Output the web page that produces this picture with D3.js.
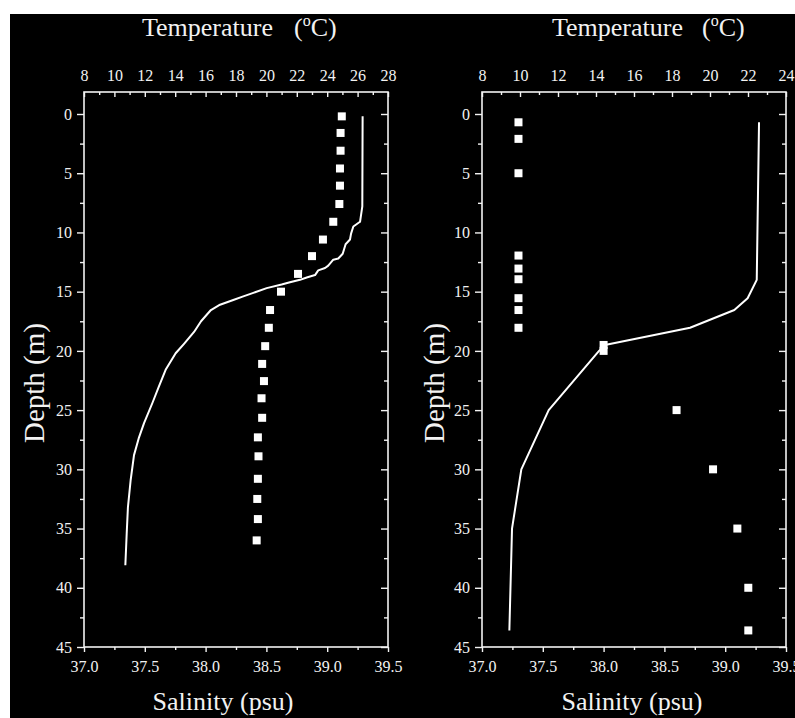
<!DOCTYPE html>
<html>
<head>
<meta charset="utf-8">
<script src="https://cdnjs.cloudflare.com/ajax/libs/d3/7.8.5/d3.min.js"></script>
<style>
  body { margin: 0; background: white; }
  text { font-family: "Liberation Serif", "Times New Roman", serif; fill: #f2f2f2; }
</style>
</head>
<body>
<div id="chart"></div>
<script>
// left profile: line = temperature, squares = salinity
var leftLineDepth = [0.2, 7.8, 9.1, 9.5, 10.1, 10.6, 11.0, 11.8, 12.2, 12.3, 12.8, 13.0, 13.2, 13.6, 13.8, 14.0, 14.2, 14.4, 14.7, 15.1,
                     15.4, 15.7, 16.1, 16.55, 17.5, 18.4, 19.4, 20.2, 21.6, 23.0, 24.4, 26.1, 27.3, 28.8, 30.9, 33.2, 35.4, 38.1];
var leftLineTemp = [26.33, 26.31, 26.16, 25.72, 25.57, 25.5, 25.21, 25.02, 24.73, 24.4, 24.07, 23.86, 23.41, 23.2, 22.65, 22.21, 21.55, 21.0, 20.02, 19.14,
                    18.48, 17.82, 16.95, 16.35, 15.7, 15.24, 14.58, 14.03, 13.37, 12.93, 12.5, 11.95, 11.62, 11.29, 11.07, 10.89, 10.81, 10.72];
var leftSqDepth = [0.2, 1.6, 3.1, 4.6, 6.05, 7.6, 9.1, 10.6, 12.0, 13.5, 15.0, 16.55, 18.05, 19.6, 21.1, 22.55, 24.0, 25.65, 27.3, 28.9, 30.8, 32.5, 34.2, 36.0];
var leftSqSal = [39.12, 39.11, 39.11, 39.105, 39.105, 39.10, 39.05, 38.965, 38.875, 38.76, 38.62, 38.53, 38.52, 38.49, 38.465, 38.48, 38.46, 38.465, 38.43, 38.435, 38.43, 38.425, 38.43, 38.42];

// right profile
var rightLineDepth = [0.7, 14.0, 15.55, 16.55, 18.05, 19.5, 20.0, 25.0, 30.0, 35.0, 43.6];
var rightLineTemp = [22.58, 22.46, 21.98, 21.28, 18.95, 14.47, 14.16, 11.51, 10.07, 9.58, 9.44];
var rightSqDepth = [0.7, 2.1, 5.0, 11.95, 13.05, 13.95, 15.55, 16.55, 18.05, 19.5, 20.0, 25.0, 30.0, 35.0, 40.0, 43.6];
var rightSqSal = [37.3, 37.3, 37.3, 37.3, 37.3, 37.3, 37.3, 37.3, 37.3, 38.0, 38.0, 38.6, 38.9, 39.1, 39.19, 39.19];

// axes
var leftTempTicks = [8, 10, 12, 14, 16, 18, 20, 22, 24, 26, 28];
var rightTempTicks = [8, 10, 12, 14, 16, 18, 20, 22, 24];
var salTicks = [37.0, 37.5, 38.0, 38.5, 39.0, 39.5];
var depthTicks = [0, 5, 10, 15, 20, 25, 30, 35, 40, 45];

var width = 795, height = 718;

var svg = d3.select("#chart")
    .append("svg")
    .attr("width", width)
    .attr("height", height);

// black figure background
svg.append("rect")
    .attr("x", 10).attr("y", 14)
    .attr("width", width - 10).attr("height", height - 14)
    .attr("fill", "black");

// note: "top" is taken by window.top, so plotTop
var plotTop = 92, plotBottom = 647;
var y = d3.scaleLinear().domain([0, 45]).range([114, 647]);

function drawPanel(opt) {
    var x0 = opt.x0, x1 = opt.x1;
    var xt = d3.scaleLinear().domain(opt.tempDomain).range([x0, x1]);
    var xs = d3.scaleLinear().domain([37.0, 39.5]).range([x0, x1]);
    var g = svg.append("g");

    //frame
    g.append("rect")
        .attr("x", x0).attr("y", plotTop)
        .attr("width", x1 - x0).attr("height", plotBottom - plotTop)
        .attr("fill", "none")
        .attr("stroke", "#f2f2f2")
        .attr("stroke-width", 1.6);

    // top temperature axis, ticks inward
    var tminor = d3.range(opt.tempDomain[0] + 1, opt.tempDomain[1], 2);
    g.append("g").attr("transform", "translate(0," + plotTop + ")")
        .call(d3.axisTop(xt).tickValues(tminor).tickSizeInner(-3).tickSizeOuter(0).tickFormat(""));
    g.append("g").attr("transform", "translate(0," + plotTop + ")")
        .call(d3.axisTop(xt).tickValues(opt.tempTicks).tickSizeInner(-5).tickSizeOuter(0).tickPadding(11).tickFormat(d3.format("d")));

    // bottom salinity axis, ticks outward
    g.append("g").attr("transform", "translate(0," + plotBottom + ")")
        .call(d3.axisBottom(xs).tickValues(d3.range(37.25, 39.5, 0.5)).tickSize(3).tickSizeOuter(0).tickFormat(""));
    g.append("g").attr("transform", "translate(0," + plotBottom + ")")
        .call(d3.axisBottom(xs).tickValues(salTicks).tickSize(5).tickSizeOuter(0).tickPadding(9).tickFormat(d3.format(".1f")));

    // depth axis left, outward
    g.append("g").attr("transform", "translate(" + x0 + ",0)")
        .call(d3.axisLeft(y).tickValues(d3.range(2.5, 45, 5)).tickSize(4).tickSizeOuter(0).tickFormat(""));
    g.append("g").attr("transform", "translate(" + x0 + ",0)")
        .call(d3.axisLeft(y).tickValues(depthTicks).tickSize(7).tickSizeOuter(0).tickPadding(5));

    // right edge, inward ticks
    g.append("g").attr("transform", "translate(" + x1 + ",0)")
        .call(d3.axisLeft(y).tickValues(d3.range(2.5, 45, 5)).tickSize(4).tickSizeOuter(0).tickFormat(""));
    g.append("g").attr("transform", "translate(" + x1 + ",0)")
        .call(d3.axisLeft(y).tickValues(depthTicks).tickSize(7).tickSizeOuter(0).tickFormat(""));

    g.selectAll(".domain").remove();
    g.selectAll(".tick line").attr("stroke", "#f2f2f2").attr("stroke-width", 1.4);
    g.selectAll(".tick text")
        .style("font-size", "16px")
        .style("font-family", "'Liberation Serif', 'Times New Roman', serif");

    // temperature line
    var pts = opt.lineDepth.map(function(d, i) { return [opt.lineTemp[i], d]; });
    g.append("path")
        .datum(pts)
        .attr("fill", "none")
        .attr("stroke", "white")
        .attr("stroke-width", 2)
        .attr("stroke-linejoin", "round")
        .attr("d", d3.line().x(function(d) { return xt(d[0]); }).y(function(d) { return y(d[1]); }));

    // salinity squares
    var sq = 8;
    g.selectAll(".sq")
        .data(opt.sqDepth.map(function(d, i) { return [opt.sqSal[i], d]; }))
        .enter().append("rect")
        .attr("class", "sq")
        .attr("x", function(d) { return xs(d[0]) - sq / 2; })
        .attr("y", function(d) { return y(d[1]) - sq / 2; })
        .attr("width", sq).attr("height", sq)
        .attr("fill", "white");

    // titles
    var t = g.append("text")
        .attr("x", opt.titleX).attr("y", 36)
        .attr("font-size", 26);
    t.append("tspan").text("Temperature");
    t.append("tspan").attr("x", opt.parenX).text("(");
    t.append("tspan").attr("font-size", 16).attr("dy", -10).text("o");
    t.append("tspan").attr("dy", 10).text("C)");

    g.append("text")
        .attr("x", opt.salX).attr("y", 710)
        .attr("text-anchor", "middle")
        .attr("font-size", 26)
        .text("Salinity (psu)");

    g.append("text")
        .attr("transform", "translate(" + opt.depthX + ",383) rotate(-90)")
        .attr("text-anchor", "middle")
        .attr("font-size", 29)
        .text("Depth (m)");
}

drawPanel({
    x0: 84, x1: 388, tempDomain: [8, 28], tempTicks: leftTempTicks,
    lineDepth: leftLineDepth, lineTemp: leftLineTemp,
    sqDepth: leftSqDepth, sqSal: leftSqSal,
    titleX: 142, parenX: 294, salX: 223, depthX: 44
});

drawPanel({
    x0: 482, x1: 786, tempDomain: [8, 24], tempTicks: rightTempTicks,
    lineDepth: rightLineDepth, lineTemp: rightLineTemp,
    sqDepth: rightSqDepth, sqSal: rightSqSal,
    titleX: 552, parenX: 702, salX: 632, depthX: 444
});
</script>
</body>
</html>
